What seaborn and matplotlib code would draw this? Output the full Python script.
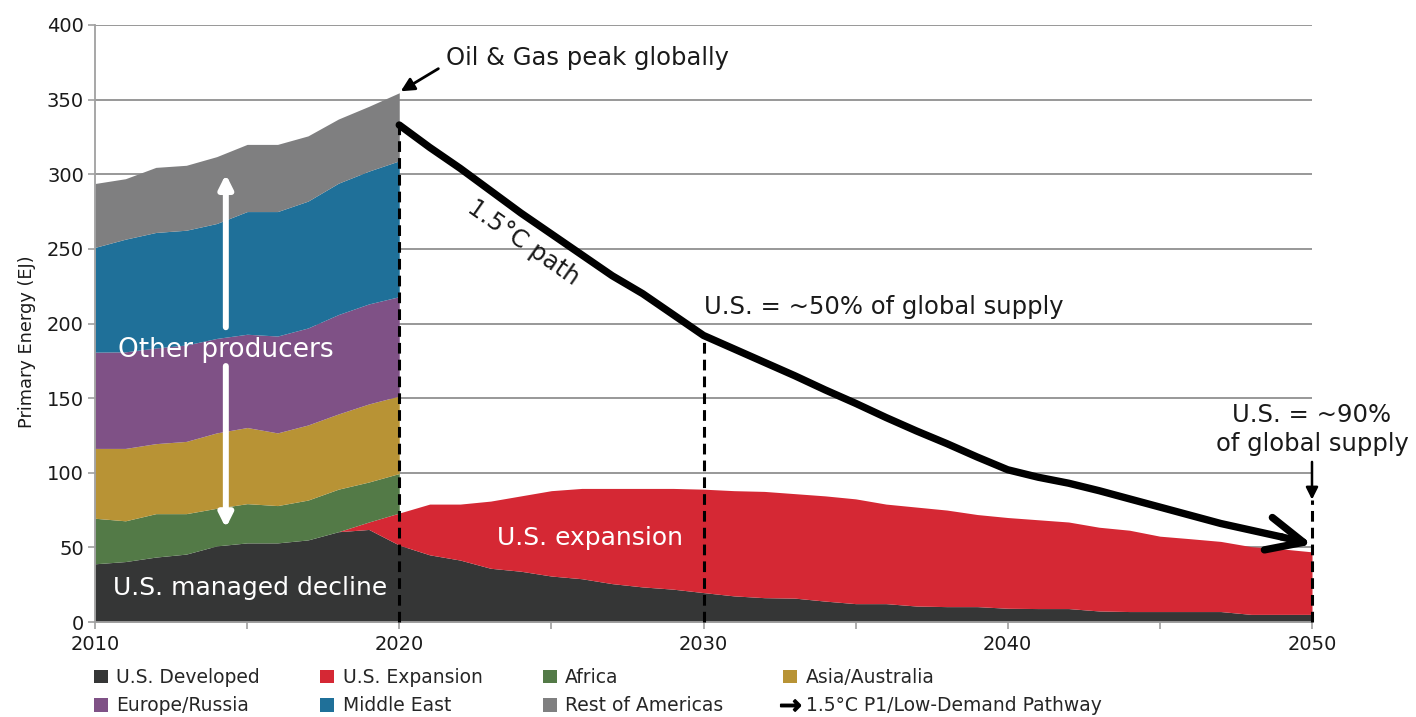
import matplotlib
matplotlib.use('Agg')
import matplotlib.pyplot as plt
import numpy as np
import pandas as pd
import seaborn as sns
from matplotlib.patches import Patch
from matplotlib.lines import Line2D

# --- data (EJ) ---
years = list(range(2010, 2051))
us_developed = [39, 40.5, 43.5, 45.5, 51, 53, 53, 55, 60.5, 62, 51.5,
                45, 41.5, 36, 34, 30.8, 29, 25.7, 23.5, 22, 19.7,
                17.5, 16.3, 16, 14, 12.3, 12.3, 10.7, 10.3, 10.3, 9.2,
                9, 9, 7.4, 7, 7, 7, 7, 5.1, 5.1, 5.1]
us_expansion = [0, 0, 0, 0, 0, 0, 0, 0, 0, 5, 21.5,
                34, 37.5, 45, 50.5, 57.2, 60.5, 63.8, 66, 67.5, 69.3,
                70.5, 71.2, 70, 70.5, 70.2, 66.7, 66.3, 64.7, 61.7, 60.8,
                59.5, 58, 56.1, 54.5, 50.5, 48.8, 47, 45.4, 43.9, 41.9]

hist_years = list(range(2010, 2021))
africa = [30.5, 27.3, 29.1, 27.1, 25.2, 26.3, 25, 26.7, 28.5, 26.8, 26.5]
asia_australia = [46.8, 48.5, 46.9, 48.4, 50.5, 51, 48.7, 50.3, 50.4, 52.3, 51.9]
europe_russia = [64.5, 64.7, 64.1, 64.6, 63.3, 62.5, 64.9, 65, 66.6, 67, 66.6]
middle_east = [70.2, 75.5, 77.4, 76.9, 77, 82.2, 83.4, 85, 88, 89, 91]
rest_of_americas = [42.8, 40.5, 43.6, 43.5, 44.8, 45, 45, 43.7, 43, 43.4, 45.6]

path_years = list(range(2020, 2051))
path_values = [333, 318, 304, 289, 274, 260, 246, 232, 220, 206, 192,
               183, 174, 165, 155.5, 146.5, 137, 128, 119.5, 110.5, 102,
               97, 93, 88, 82.5, 77, 71.5, 66, 61.5, 57, 52]

colors = {
    'U.S. Developed': '#353636',
    'U.S. Expansion': '#D52834',
    'Africa': '#537A47',
    'Asia/Australia': '#B89335',
    'Europe/Russia': '#7F5186',
    'Middle East': '#1F7099',
    'Rest of Americas': '#7F7F80',
}

sns.set_style('white')
plt.rcParams['font.family'] = ['DejaVu Sans']

fig = plt.figure(figsize=(14.16, 7.17), dpi=100)
ax = fig.add_axes([95 / 1416, 95 / 717, 1217 / 1416, 597 / 717])

# U.S. layers
us = pd.DataFrame({'year': years, 'dev': us_developed, 'exp': us_expansion})
us['total'] = us['dev'] + us['exp']
ax.fill_between(us['year'], 0, us['dev'], color=colors['U.S. Developed'], lw=0, zorder=1)
ax.fill_between(us['year'], us['dev'], us['total'], color=colors['U.S. Expansion'], lw=0, zorder=1)

# other producers stacked on top of the U.S. until 2020
base = us['total'].to_numpy()[:len(hist_years)]
for name, vals in [('Africa', africa), ('Asia/Australia', asia_australia),
                   ('Europe/Russia', europe_russia), ('Middle East', middle_east),
                   ('Rest of Americas', rest_of_americas)]:
    top = base + np.array(vals)
    ax.fill_between(hist_years, base, top, color=colors[name], lw=0, zorder=1)
    base = top
global_peak = base[-1]

# grid / axes
ax.set_xlim(2010, 2050)
ax.set_ylim(0, 400)
ax.set_yticks(range(0, 401, 50))
ax.set_xticks(range(2010, 2051, 10))
ax.set_xticks(range(2015, 2050, 10), minor=True)
ax.yaxis.grid(True, color='#909090', lw=1.3, zorder=0)
ax.set_axisbelow(True)
for s in ['top', 'right']:
    ax.spines[s].set_visible(False)
for s in ['left', 'bottom']:
    ax.spines[s].set_color('#A0A0A0')
    ax.spines[s].set_linewidth(1.3)
ax.tick_params(axis='both', which='both', colors='#A0A0A0', labelcolor='#1a1a1a',
               labelsize=14, length=5, width=1.2)
ax.tick_params(axis='x', which='both', bottom=True, pad=4)
ax.tick_params(axis='y', left=True, pad=3)
ax.set_ylabel('Primary Energy (EJ)', fontsize=12.8, color='#1a1a1a', labelpad=8, y=0.47)

# dashed markers
dash_kw = dict(color='black', lw=2.2, dashes=(3.5, 2), zorder=4, clip_on=False)
for yr in [2020, 2030]:
    ax.plot([yr, yr], [0, path_values[path_years.index(yr)]], **dash_kw)
supply_tip = 82
ax.plot([2050, 2050], [0, supply_tip], **dash_kw)

# 1.5C pathway
sns.lineplot(x=path_years[:-1], y=path_values[:-1], color='black', lw=5.3, ax=ax,
             zorder=5, solid_capstyle='round', clip_on=False)
ax.annotate('', xy=(path_years[-1], path_values[-1]), xytext=(path_years[-2], path_values[-2]),
            arrowprops=dict(arrowstyle='->,head_length=1.3,head_width=0.6', lw=5.3,
                            color='black', shrinkA=0, shrinkB=0, mutation_scale=20,
                            capstyle='round', joinstyle='round'),
            zorder=5)

# annotations
txt = dict(fontsize=17.5, color='#1a1a1a')
ax.annotate('Oil & Gas peak globally', xy=(2020.05, global_peak + 1), xytext=(2021.55, 378),
            ha='left', va='center', **txt,
            arrowprops=dict(arrowstyle='-|>', color='black', lw=2, relpos=(0, 0.25),
                            shrinkA=4, shrinkB=0, mutation_scale=20))
ax.text(2024.07, 254, '1.5°C path', rotation=-35, ha='center', va='center',
        rotation_mode='anchor', **txt)
ax.text(2030, 211, 'U.S. = ~50% of global supply', ha='left', va='center', **txt)
ax.annotate('U.S. = ~90%\nof global supply', xy=(2050, supply_tip), xytext=(2050, 129),
            ha='center', va='center', linespacing=1.25, **txt, annotation_clip=False,
            arrowprops=dict(arrowstyle='-|>', color='black', lw=1.8, relpos=(0.5, 0),
                            shrinkA=2, shrinkB=0, mutation_scale=18))

ax.text(2014.3, 182, 'Other producers', ha='center', va='center', fontsize=19,
        color='white', zorder=6)
white_arrow = dict(arrowstyle='-|>', color='white', lw=4.3, shrinkA=0, shrinkB=0,
                   mutation_scale=20)
ax.annotate('', xy=(2014.3, 300), xytext=(2014.3, 197.5), arrowprops=white_arrow, zorder=6)
ax.annotate('', xy=(2014.3, 63), xytext=(2014.3, 171.5), arrowprops=white_arrow, zorder=6)
ax.text(2015.1, 22.5, 'U.S. managed decline', ha='center', va='center', fontsize=18,
        color='white', zorder=6)
ax.text(2026.27, 56.3, 'U.S. expansion', ha='center', va='center', fontsize=18,
        color='white', zorder=6)

# legend (filled column-wise, so order by columns)
order = ['U.S. Developed', 'Europe/Russia', 'U.S. Expansion', 'Middle East',
         'Africa', 'Rest of Americas', 'Asia/Australia', None]
handles = []
for name in order:
    if name is None:
        handles.append(Line2D([], [], color='black', marker=r'$\rightarrow$', linestyle='None',
                              markersize=14, markeredgewidth=1.2,
                              label='1.5°C P1/Low-Demand Pathway'))
    else:
        handles.append(Patch(facecolor=colors[name], edgecolor='none', label=name))
fig.legend(handles=handles, ncol=4, loc='upper left', bbox_to_anchor=(94 / 1416, 1 - 668 / 717),
           frameon=False, fontsize=13.5, handlelength=0.75, handleheight=0.75,
           handletextpad=0.45, columnspacing=3.2, labelspacing=0.5,
           borderpad=0, borderaxespad=0)

fig.savefig('out.png', dpi=100)
